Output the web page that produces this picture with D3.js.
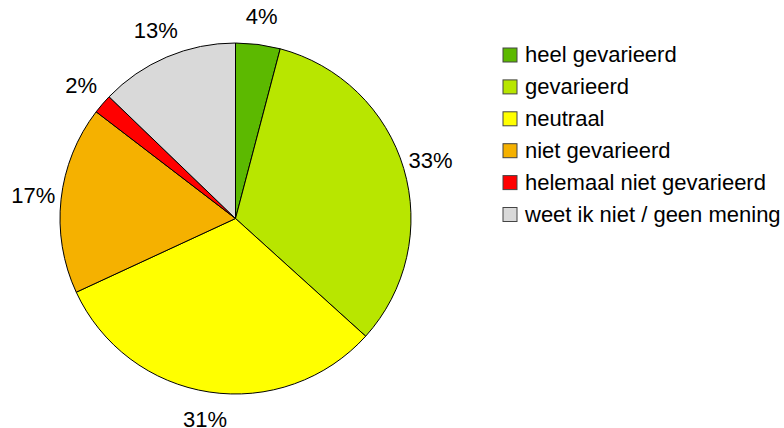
<!DOCTYPE html>
<html>
<head>
<meta charset="utf-8">
<script src="https://cdn.jsdelivr.net/npm/d3@7"></script>
<style>
  body { margin: 0; background: #fff; }
  text { font-family: "Liberation Sans", Arial, sans-serif; fill: #000; }
</style>
</head>
<body>
<div id="chart"></div>
<script>
// Data (slice sizes, labels are the rounded shares)
const categories = ["heel gevarieerd", "gevarieerd", "neutraal", "niet gevarieerd", "helemaal niet gevarieerd", "weet ik niet / geen mening"];
const values = [4.1, 32.6, 31.4, 17.3, 1.8, 12.8];
const labels = ["4%", "33%", "31%", "17%", "2%", "13%"];
const colors = ["#5cb900", "#b8e600", "#ffff00", "#f5b100", "#ff0000", "#d9d9d9"];

const width = 784, height = 428;
const cx = 235.5, cy = 218.5, radius = 175.5;

const svg = d3.select("#chart")
    .append("svg")
    .attr("width", width)
    .attr("height", height);

const data = categories.map((c, i) => ({ name: c, value: values[i], label: labels[i], color: colors[i] }));

const pie = d3.pie()
    .sort(null)
    .value(d => d.value);

const arc = d3.arc()
    .innerRadius(0)
    .outerRadius(radius);

const g = svg.append("g")
    .attr("transform", `translate(${cx},${cy})`);

const arcs = pie(data);

// Slices
g.selectAll("path")
    .data(arcs)
    .enter()
    .append("path")
    .attr("d", arc)
    .attr("fill", d => d.data.color)
    .attr("stroke", "#000")
    .attr("stroke-width", 1);

// Percentage labels outside the pie, centred on the mid angle
const labelArc = d3.arc()
    .innerRadius(radius + 28)
    .outerRadius(radius + 28);

g.selectAll("text.label")
    .data(arcs)
    .enter()
    .append("text")
    .attr("class", "label")
    .attr("font-size", "22px")
    .attr("text-anchor", "middle")
    .attr("x", d => labelArc.centroid(d)[0])
    .attr("y", d => labelArc.centroid(d)[1] + 7)
    .text(d => d.data.label);

// Legend
const legend = svg.append("g")
    .attr("transform", "translate(503,48)");

const rows = legend.selectAll("g")
    .data(data)
    .enter()
    .append("g")
    .attr("transform", (d, i) => `translate(0,${i * 31.9})`);

rows.append("rect")
    .attr("width", 14)
    .attr("height", 14)
    .attr("fill", d => d.color)
    .attr("stroke", "#444")
    .attr("stroke-width", 1);

rows.append("text")
    .attr("x", 22)
    .attr("y", 14)
    .attr("font-size", "22px")
    .text(d => d.name);
</script>
</body>
</html>
